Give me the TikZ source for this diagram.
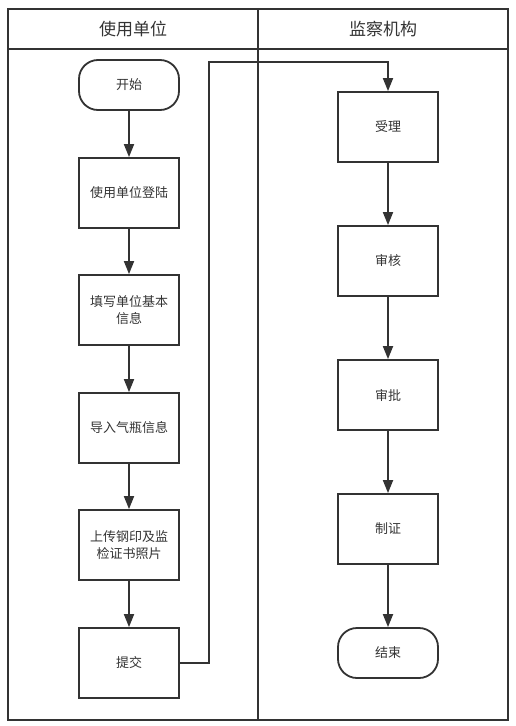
\documentclass[tikz,border=0pt]{standalone}
\usepackage{fontspec}
\setmainfont{Noto Sans CJK SC}
\usetikzlibrary{arrows.meta}
\definecolor{ln}{HTML}{333333}
\begin{document}
\begin{tikzpicture}[x=1pt,y=-1pt,
  proc/.style={draw=ln,line width=1.8pt,minimum width=100pt,minimum height=70pt,align=center,font=\fontsize{13}{17}\selectfont,inner sep=0pt,text=ln},
  term/.style={draw=ln,line width=1.8pt,minimum width=100pt,minimum height=50pt,rounded corners=19pt,align=center,font=\fontsize{13}{17}\selectfont,inner sep=0pt,text=ln},
  hdr/.style={font=\fontsize{17}{20}\selectfont,text=ln},
  arr/.style={draw=ln,line width=1.8pt,-{Triangle[length=13pt,width=10pt]}}]
\useasboundingbox (0,0) rectangle (516,726);
% frame
\draw[ln,line width=2pt] (8,9) rectangle (508,720);
\draw[ln,line width=2pt] (8,49) -- (508,49);
\draw[ln,line width=2pt] (258,9) -- (258,720);
\node[hdr] (h1) at (133,29) {使用单位};
\node[hdr] (h2) at (383,29) {监察机构};
% left column
\node[term] (start) at (129,85) {开始};
\node[proc] (a1) at (129,193) {使用单位登陆};
\node[proc] (a2) at (129,310) {填写单位基本\\信息};
\node[proc] (a3) at (129,428) {导入气瓶信息};
\node[proc] (a4) at (129,545) {上传钢印及监\\检证书照片};
\node[proc] (a5) at (129,663) {提交};
% right column
\node[proc] (b1) at (388,127) {受理};
\node[proc] (b2) at (388,261) {审核};
\node[proc] (b3) at (388,395) {审批};
\node[proc] (b4) at (388,529) {制证};
\node[term] (end) at (388,653) {结束};
% connectors
\draw[arr] (start) -- (a1);
\draw[arr] (a1) -- (a2);
\draw[arr] (a2) -- (a3);
\draw[arr] (a3) -- (a4);
\draw[arr] (a4) -- (a5);
\coordinate (c1) at (209,663);
\coordinate (c2) at (209,62);
\draw[arr] (a5.east) -- (c1) -- (c2) -| (b1.north);
\draw[arr] (b1) -- (b2);
\draw[arr] (b2) -- (b3);
\draw[arr] (b3) -- (b4);
\draw[arr] (b4) -- (end);
\end{tikzpicture}
\end{document}
